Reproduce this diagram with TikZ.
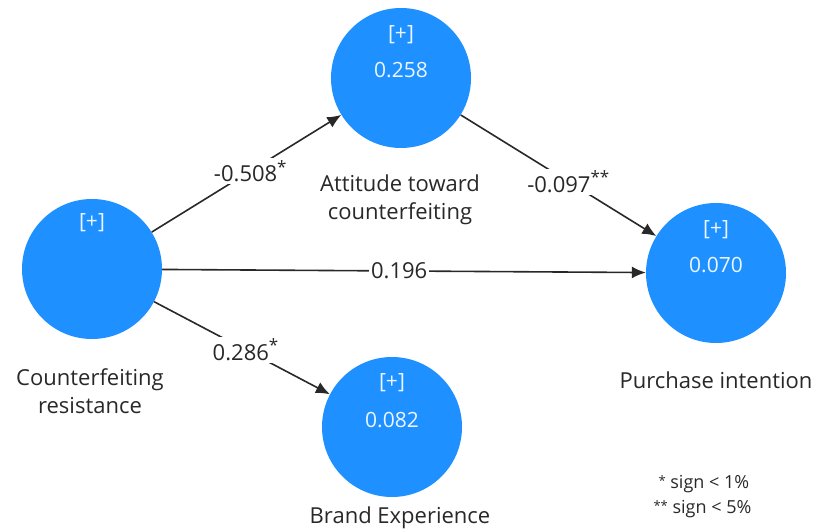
\documentclass[tikz,border=0pt]{standalone}
\usepackage{fontspec}
\setmainfont{Open Sans}
\usetikzlibrary{arrows.meta}
\definecolor{lvblue}{RGB}{30,144,255}
\definecolor{ink}{RGB}{40,40,40}
\begin{document}
\begin{tikzpicture}[x=1pt,y=-1pt,
  lv/.style={circle,fill=lvblue,minimum size=140pt,inner sep=0pt},
  intext/.style={text=white!92!lvblue,font=\fontsize{21}{24}\selectfont},
  lvlabel/.style={text=ink,align=center,font=\fontsize{22}{28}\selectfont},
  path/.style={draw=ink,line width=1.6pt,-{Latex[length=14pt,width=12pt]}},
  coef/.style={fill=white,inner sep=2pt,text=ink,font=\fontsize{22}{24}\selectfont},
  legend/.style={text=ink,font=\fontsize{18}{20}\selectfont,anchor=west}
]
\useasboundingbox (0,0) rectangle (814,529);
\node[lv] (cr) at (92,269) {};
\node[lv] (att) at (401,78) {};
\node[lv] (pi) at (716,273) {};
\node[lv] (be) at (392,427) {};

\node[intext] (crp) at (92,223) {[+]};
\node[intext] (attp) at (401,35) {[+]};
\node[intext] (attv) at (401,70) {0.258};
\node[intext] (pip) at (716,230) {[+]};
\node[intext] (piv) at (716,265) {0.070};
\node[intext] (bep) at (392,383) {[+]};
\node[intext] (bev) at (392,420) {0.082};

\node[lvlabel] (crl) at (90,391) {Counterfeiting\\resistance};
\node[lvlabel] (attl) at (400,200) {Attitude toward\\counterfeiting};
\node[lvlabel] (pil) at (716,380) {Purchase intention};
\node[lvlabel] (bel) at (400,518) {Brand Experience};

\draw[path] (cr) -- node[coef,pos=0.52] (c1) {-0.508\raisebox{0.75ex}{\fontsize{17}{17}\selectfont*}} (att);
\draw[path] (att) -- node[coef,pos=0.55] (c2) {-0.097\raisebox{0.75ex}{\fontsize{17}{17}\selectfont**}} (pi);
\draw[path] (cr) -- node[coef,pos=0.49] (c3) {0.196} (pi);
\draw[path] (cr) -- node[coef,pos=0.52] (c4) {0.286\raisebox{0.75ex}{\fontsize{17}{17}\selectfont*}} (be);

\node[legend] (lg1) at (655,484) {\raisebox{0.3ex}{\fontsize{13}{13}\selectfont*} sign < 1\%};
\node[legend] (lg2) at (650,509) {\raisebox{0.3ex}{\fontsize{13}{13}\selectfont**} sign < 5\%};
\end{tikzpicture}
\end{document}
